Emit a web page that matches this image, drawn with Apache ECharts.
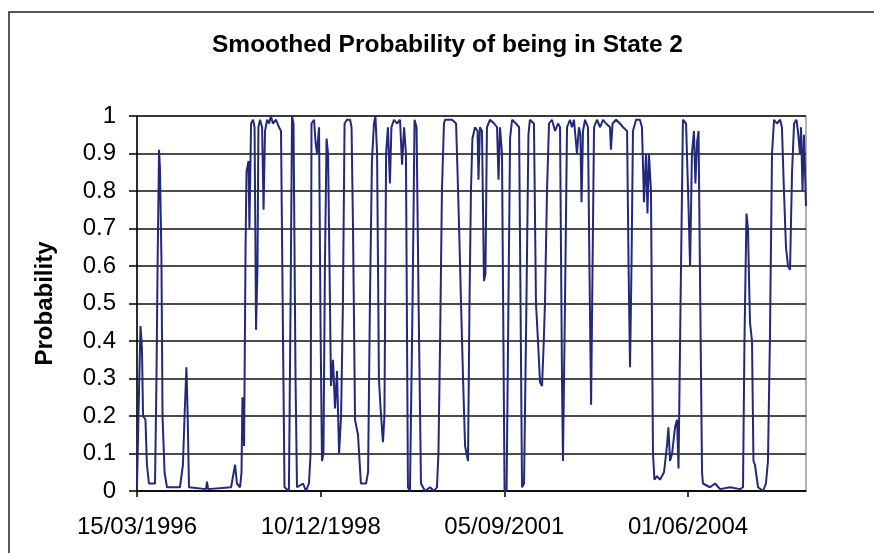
<!DOCTYPE html>
<html>
<head>
<meta charset="utf-8">
<script src="https://cdn.jsdelivr.net/npm/echarts@6/dist/echarts.min.js"></script>
<style>
html,body{margin:0;padding:0;background:#fff;}
#chart{width:874px;height:553px;}
</style>
</head>
<body>
<div id="chart"></div>
<script>
// Chart text
var chartTitle = 'Smoothed Probability of being in State 2';
var yAxisTitle = 'Probability';
var startDate = '1996-03-15';      // day 0 of the x axis
var xLabelStepDays = 1000;         // 15/03/1996, 10/12/1998, 05/09/2001, 01/06/2004
var lastDay = 3642;

// Observations: days since 15/03/1996 and smoothed probability of state 2
var dayOffsets = [
  0, 8, 19, 27, 33, 46, 54, 65, 98, 106, 112, 120, 125, 133, 139, 150, 163,
  234, 250, 259, 269, 275, 283, 376, 381, 387, 512, 534, 544, 561,
  569, 574, 583, 591, 596, 607, 612, 621, 632, 640, 648, 656, 661, 670, 681, 689, 697,
  708, 719, 729, 740, 757, 773, 784, 792, 803, 827, 836, 844, 852, 863, 871, 904, 920, 936,
  945, 950, 964, 972, 980, 991, 999, 1007, 1015, 1023, 1032, 1040, 1048, 1056, 1067, 1078,
  1089, 1100, 1111, 1121, 1130, 1143, 1160, 1168, 1176, 1187, 1203, 1219, 1247,
  1258, 1268, 1279, 1290, 1298, 1307, 1317, 1326, 1339, 1347, 1356, 1366, 1377, 1385, 1399,
  1415, 1432, 1443, 1454, 1464, 1475, 1486, 1500, 1511, 1522, 1533, 1546, 1568, 1595, 1617,
  1633, 1641, 1650, 1660, 1671, 1677,
  1715, 1737, 1745, 1753, 1764, 1775, 1786, 1794, 1802, 1810, 1818, 1826, 1840, 1854, 1859,
  1867, 1878, 1889, 1897, 1905, 1922, 1944, 1960, 1968, 1976, 1987, 2001, 2012, 2022, 2031,
  2042, 2063, 2080, 2088, 2096, 2107, 2120, 2131, 2139, 2161, 2172, 2183, 2194, 2205, 2213,
  2221, 2232, 2243, 2259, 2276, 2292, 2303, 2314, 2319, 2330, 2341, 2357,
  2368, 2379, 2395, 2406, 2414, 2420, 2428, 2439, 2455, 2463, 2472, 2480, 2488, 2504, 2521,
  2537, 2553, 2575, 2580, 2589, 2608, 2629, 2646, 2668, 2676, 2684, 2692, 2700, 2717, 2738,
  2749, 2760, 2771, 2779, 2787, 2798, 2809, 2817, 2831, 2847, 2869, 2885, 2893, 2902, 2913,
  2929, 2940, 2948, 2959, 2972, 2989, 3000, 3011, 3021, 3032, 3040, 3049, 3057, 3065, 3076, 3081,
  3119, 3147, 3174, 3228, 3283, 3299, 3307, 3318, 3326, 3337, 3348, 3356, 3364, 3381, 3408,
  3424, 3435, 3446, 3457, 3468, 3484, 3501, 3511, 3522, 3533, 3544, 3555, 3566, 3577, 3590,
  3598, 3609, 3615, 3623, 3631, 3642
];
var probability = [
  0.01, 0.2, 0.44, 0.38, 0.2, 0.19, 0.07, 0.02, 0.02, 0.3, 0.6, 0.91, 0.86, 0.62, 0.2, 0.05, 0.01,
  0.01, 0.07, 0.2, 0.33, 0.22, 0.01, 0.005, 0.025, 0.005, 0.01, 0.07, 0.02, 0.01,
  0.05, 0.25, 0.12, 0.65, 0.85, 0.88, 0.7, 0.98, 0.99, 0.97, 0.43, 0.6, 0.97, 0.99, 0.97, 0.75, 0.96,
  0.99, 0.98, 1.0, 0.98, 0.99, 0.97, 0.96, 0.55, 0.01, 0.0, 0.5, 1.0, 0.98, 0.3, 0.01, 0.02, 0.0, 0.02,
  0.1, 0.98, 0.99, 0.93, 0.9, 0.97, 0.45, 0.08, 0.1, 0.6, 0.94, 0.9, 0.6, 0.28, 0.35, 0.22,
  0.32, 0.1, 0.2, 0.5, 0.98, 0.99, 0.99, 0.97, 0.7, 0.19, 0.15, 0.02, 0.02,
  0.05, 0.5, 0.88, 0.98, 1.0, 0.9, 0.3, 0.22, 0.13, 0.2, 0.9, 0.97, 0.82, 0.97, 0.99,
  0.98, 0.99, 0.87, 0.97, 0.9, 0.01, 0.0, 0.5, 0.99, 0.97, 0.5, 0.02, 0.0, 0.01, 0.0,
  0.01, 0.1, 0.4, 0.8, 0.98, 0.99,
  0.99, 0.98, 0.85, 0.71, 0.5, 0.3, 0.12, 0.1, 0.08, 0.5, 0.8, 0.94, 0.97, 0.96, 0.83,
  0.97, 0.96, 0.56, 0.58, 0.97, 0.99, 0.98, 0.97, 0.83, 0.97, 0.9, 0.0, 0.0, 0.5, 0.94,
  0.99, 0.98, 0.97, 0.5, 0.01, 0.02, 0.5, 0.95, 0.99, 0.98, 0.5, 0.4, 0.29, 0.28, 0.38,
  0.5, 0.8, 0.98, 0.99, 0.96, 0.98, 0.97, 0.28, 0.08, 0.5, 0.97, 0.99,
  0.97, 0.99, 0.9, 0.97, 0.95, 0.77, 0.96, 0.99, 0.97, 0.6, 0.23, 0.6, 0.97, 0.99, 0.97,
  0.99, 0.98, 0.97, 0.91, 0.98, 0.99, 0.98, 0.97, 0.96, 0.6, 0.33, 0.6, 0.96, 0.99, 0.99,
  0.97, 0.77, 0.9, 0.74, 0.9, 0.8, 0.1, 0.03, 0.04, 0.03, 0.05, 0.12, 0.17, 0.08, 0.1,
  0.17, 0.19, 0.06, 0.5, 0.99, 0.98, 0.8, 0.6, 0.9, 0.96, 0.82, 0.93, 0.96, 0.57, 0.05, 0.02,
  0.01, 0.02, 0.005, 0.01, 0.005, 0.01, 0.4, 0.74, 0.7, 0.45, 0.4, 0.08, 0.07, 0.01, 0.0,
  0.02, 0.08, 0.42, 0.9, 0.99, 0.98, 0.99, 0.97, 0.8, 0.65, 0.6, 0.59, 0.85, 0.98, 0.99,
  0.96, 0.9, 0.97, 0.8, 0.95, 0.76
];

var font = 'Liberation Sans, Arial, sans-serif';
var startMs = Date.UTC(1996, 2, 15);
function pad(n){ return (n < 10 ? '0' : '') + n; }
function dayLabel(v){
  if (Math.round(v) % xLabelStepDays !== 0) return '';
  var d = new Date(startMs + Math.round(v) * 86400000);
  return pad(d.getUTCDate()) + '/' + pad(d.getUTCMonth() + 1) + '/' + d.getUTCFullYear();
}
var seriesData = dayOffsets.map(function(d, i){ return [d, probability[i]]; });

var chart = echarts.init(document.getElementById('chart'), null, {renderer: 'canvas'});
chart.setOption({
  animation: false,
  backgroundColor: '#fff',
  title: {
    text: chartTitle,
    left: 212, top: 33, padding: 0,
    textStyle: {fontFamily: font, fontSize: 24.5, fontWeight: 'bold', color: '#000'}
  },
  graphic: [{
    type: 'rect', silent: true, z: -1,
    shape: {x: 9, y: 12, width: 900, height: 600},
    style: {fill: 'none', stroke: '#222', lineWidth: 1.5}
  }],
  grid: {
    left: 137, right: 68, top: 116, bottom: 62,
    show: true, borderColor: '#666', borderWidth: 1, backgroundColor: 'transparent'
  },
  xAxis: {
    type: 'value', min: 0, max: lastDay, interval: xLabelStepDays,
    axisLine: {show: true, lineStyle: {color: '#000', width: 1.5}},
    axisTick: {show: true, inside: false, length: 6, lineStyle: {color: '#000', width: 1.5}},
    splitLine: {show: false},
    axisLabel: {
      formatter: dayLabel, showMaxLabel: false, margin: 24,
      fontFamily: font, fontSize: 24, color: '#000'
    }
  },
  yAxis: {
    type: 'value', min: 0, max: 1, interval: 0.1,
    name: yAxisTitle, nameLocation: 'middle', nameRotate: 90, nameGap: 80,
    nameTextStyle: {fontFamily: font, fontSize: 24, fontWeight: 'bold', color: '#000'},
    axisLine: {show: true, lineStyle: {color: '#000', width: 1.5}},
    axisTick: {show: true, inside: false, length: 8, lineStyle: {color: '#000', width: 1.5}},
    splitLine: {show: true, lineStyle: {color: '#111', width: 1.5}},
    axisLabel: {
      formatter: function(v){ return String(Math.round(v * 10) / 10); },
      margin: 21, fontFamily: font, fontSize: 24, color: '#000'
    }
  },
  series: [{
    type: 'line', data: seriesData, showSymbol: false, smooth: false,
    lineStyle: {color: '#22297a', width: 2},
    clip: true
  }]
});
</script>
</body>
</html>
